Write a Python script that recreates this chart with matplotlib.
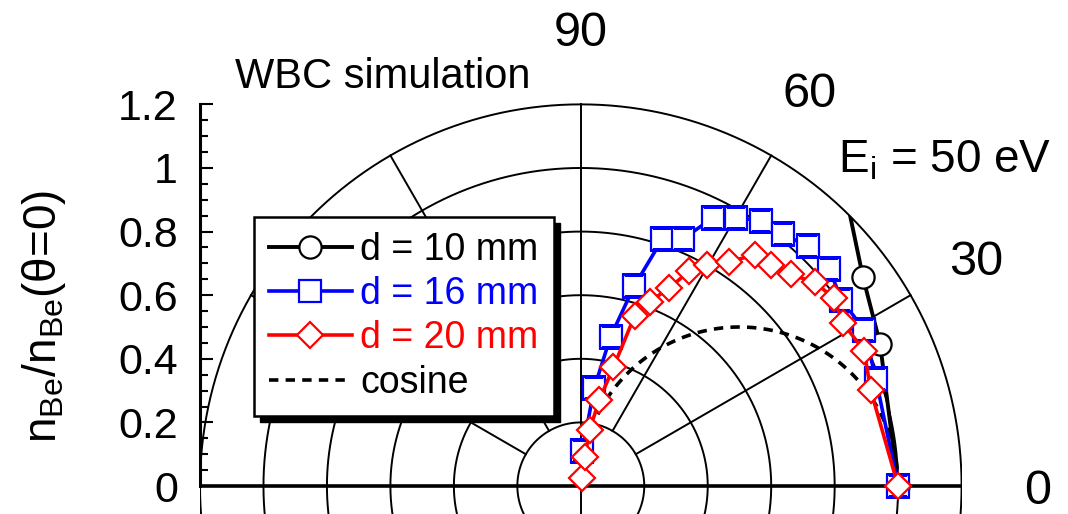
import numpy as np
import matplotlib
matplotlib.use("Agg")
import matplotlib.pyplot as plt
from matplotlib.patches import Rectangle, Circle
from matplotlib.transforms import IdentityTransform

plt.rcParams['font.family'] = ['Liberation Sans', 'DejaVu Sans']
plt.rcParams['mathtext.fontset'] = 'custom'
plt.rcParams['mathtext.rm'] = 'Liberation Sans'
plt.rcParams['mathtext.it'] = 'Liberation Sans'

# angular distributions of sputtered Be (angle in deg, normalised density)
theta_10 = [0, 25.4, 36.4, 51.2]
n_10 = [1.0, 1.044, 1.105, 1.30]

theta_16 = [87.4, 82.2, 78.7, 75.0, 71.7, 67.5, 63.7, 59.9, 55.7, 51.2,
            46.5, 41.0, 35.5, 28.8, 19.9, 0]
n_16 = [0.111, 0.310, 0.479, 0.651, 0.817, 0.841, 0.941, 0.975, 1.010, 1.016,
        1.040, 1.038, 1.009, 1.019, 0.989, 1.0]

theta_20 = [79.5, 81.8, 81.0, 77.9, 74.6, 72.4, 69.5, 65.9, 63.2, 60.2,
            56.5, 53.0, 49.2, 45.2, 41.0, 36.6, 31.9, 25.5, 18.2, 0]
n_20 = [0.027, 0.091, 0.178, 0.276, 0.387, 0.561, 0.619, 0.681, 0.757, 0.801,
        0.845, 0.910, 0.919, 0.938, 0.976, 0.993, 0.972, 0.989, 0.962, 1.0]

ring_radii = [0.2, 0.4, 0.6, 0.8, 1.0, 1.2]
angle_labels = [0, 30, 60, 90]
r_max = 1.2


def to_xy(theta_deg, r):
    t = np.deg2rad(np.asarray(theta_deg, dtype=float))
    r = np.asarray(r, dtype=float)
    return r * np.cos(t), r * np.sin(t)


fig = plt.figure(figsize=(10.68, 5.14), dpi=100)
ax = fig.add_axes([200 / 1068, 0, 761.6 / 1068, 414.4 / 514])
ax.set_xlim(-1.2, 1.2)
ax.set_ylim(-0.088, 1.215)

# polar grid
t = np.linspace(0, 2 * np.pi, 721)
for rr in ring_radii:
    ax.plot(rr * np.cos(t), rr * np.sin(t), color='k', lw=1.4, zorder=1)
for a in range(0, 360, 30):
    r0 = 0 if a % 90 == 0 else 0.2
    x, y = to_xy([a, a], [r0, r_max])
    ax.plot(x, y, color='k', lw=1.4, zorder=1)
ax.plot([-1.2, 1.2], [0, 0], color='k', lw=2.6, zorder=2, solid_capstyle='butt')

clip = Circle((0, 0), r_max, transform=ax.transData)

# cosine reference
tc = np.linspace(0, 90, 200)
x, y = to_xy(tc, np.cos(np.deg2rad(tc)))
lcos, = ax.plot(x, y, color='k', lw=2.6, dashes=(2.6, 2.0), zorder=3,
                label='cosine')

x, y = to_xy(theta_10, n_10)
l10, = ax.plot(x, y, color='k', lw=2.8, marker='o', ms=16, mfc='white',
               mec='k', mew=1.6, zorder=4, label='d = 10 mm')
x, y = to_xy(theta_16, n_16)
l16, = ax.plot(x, y, color='#0000ff', lw=2.6, marker='s', ms=16, mfc='white',
               mec='#0000ff', mew=1.6, zorder=5, label='d = 16 mm')
x, y = to_xy(theta_20, n_20)
l20, = ax.plot(x, y, color='#ff0000', lw=2.6, marker='D', ms=13.5, mfc='white',
               mec='#ff0000', mew=1.6, zorder=6, label='d = 20 mm')
for ln in [l10, l16, l20]:
    ln.set_clip_path(clip)

# axes styling
for s in ['top', 'right', 'bottom']:
    ax.spines[s].set_visible(False)
ax.spines['left'].set_linewidth(2.2)
ax.spines['left'].set_bounds(0, 1.2)
ax.set_xticks([])
ax.set_yticks(np.arange(0, 1.21, 0.2))
ax.set_yticklabels(['0', '0.2', '0.4', '0.6', '0.8', '1', '1.2'])
ax.set_yticks(np.arange(0, 1.21, 0.05), minor=True)
ax.tick_params(axis='y', which='major', direction='in', length=9.5, width=1.5,
               labelsize=31, pad=16)
ax.tick_params(axis='y', which='minor', direction='in', length=6, width=1.5)

for a in angle_labels:
    x, y = to_xy(a, 1.44)
    ax.text(x, y - 0.055, str(a), fontsize=35, ha='center', va='baseline',
            clip_on=False)

fig.text(44 / 1068, 1 - 316 / 514,
         r'n$_\mathregular{Be}$/n$_\mathregular{Be}$(θ=0)', rotation=90,
         fontsize=33, ha='center', va='center')
fig.text(235 / 1068, 1 - 88 / 514, 'WBC simulation', fontsize=30,
         ha='left', va='baseline')
fig.text(838 / 1068, 1 - 173 / 514, r'E$_\mathregular{i}$ = 50 eV',
         fontsize=33, ha='left', va='baseline')

leg = ax.legend(handles=[l10, l16, l20, lcos],
                loc='upper left', bbox_to_anchor=(254 / 1068, 1 - 217 / 514),
                bbox_transform=fig.transFigure, fontsize=27, frameon=True,
                fancybox=False, borderaxespad=0, borderpad=0.4,
                handlelength=2.2, handletextpad=0.24, labelspacing=0.22,
                labelcolor='linecolor')
leg.get_frame().set_edgecolor('k')
leg.get_frame().set_linewidth(1.8)
leg.get_frame().set_alpha(1)
leg.set_zorder(10)

fig.canvas.draw()
bb = leg.get_frame().get_window_extent(fig.canvas.get_renderer())
shadow = Rectangle((bb.x0 + 6, bb.y0 - 6), bb.width, bb.height,
                   transform=IdentityTransform(), facecolor='k', edgecolor='k',
                   zorder=9.9, clip_on=False)
ax.add_artist(shadow)

fig.savefig('out.png', dpi=100)
